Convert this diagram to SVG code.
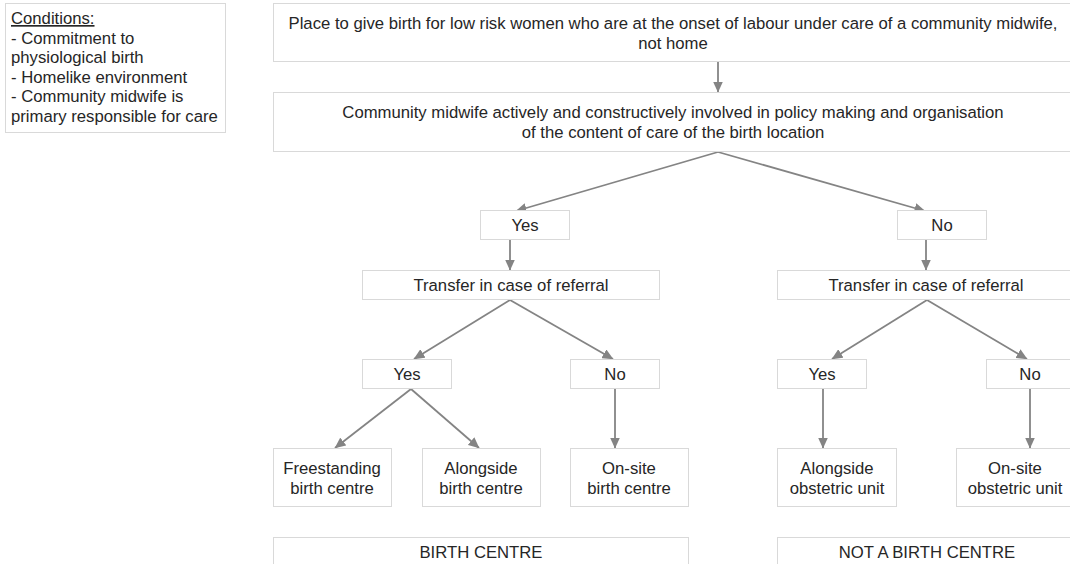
<svg xmlns="http://www.w3.org/2000/svg" width="1070" height="564" viewBox="0 0 1070 564">
<defs>
<style>
.box{fill:#fff;stroke:#d9d9d9;stroke-width:1}
.t{font-family:"Liberation Sans",Arial,sans-serif;font-size:16.7px;fill:#262626;text-anchor:middle}
.tl{font-family:"Liberation Sans",Arial,sans-serif;font-size:16.7px;fill:#262626}
.c{stroke:#848484;stroke-width:1.8;fill:none;marker-end:url(#ah)}
</style>
<marker id="ah" viewBox="0 0 11 10" refX="10.5" refY="5" markerWidth="11" markerHeight="10" markerUnits="userSpaceOnUse" orient="auto">
<path d="M0,0 L11,5 L0,10 z" fill="#848484"/>
</marker>
</defs>
<rect width="1070" height="564" fill="#fff"/>
<g id="conditions">
<rect class="box" x="5.5" y="3.5" width="220" height="129"/>
<text class="tl" x="11" y="24"><tspan text-decoration="underline">Conditions:</tspan><tspan x="11" dy="19.5">- Commitment to</tspan><tspan x="11" dy="19.5">physiological birth</tspan><tspan x="11" dy="19.5">- Homelike environment</tspan><tspan x="11" dy="19.5">- Community midwife is</tspan><tspan x="11" dy="19.5">primary responsible for care</tspan></text>
</g>
<g id="connectors">
<line class="c" x1="718" y1="62" x2="718" y2="92"/>
<line class="c" x1="718" y1="152" x2="516" y2="211"/>
<line class="c" x1="718" y1="152" x2="925" y2="211"/>
<line class="c" x1="510" y1="240" x2="510" y2="270"/>
<line class="c" x1="926" y1="240" x2="926" y2="270"/>
<line class="c" x1="510" y1="300" x2="414" y2="359"/>
<line class="c" x1="510" y1="300" x2="613" y2="359"/>
<line class="c" x1="927" y1="300" x2="832" y2="359"/>
<line class="c" x1="927" y1="300" x2="1027" y2="359"/>
<line class="c" x1="411" y1="389" x2="335" y2="448"/>
<line class="c" x1="411" y1="389" x2="479" y2="448"/>
<line class="c" x1="615" y1="389" x2="615" y2="448"/>
<line class="c" x1="823" y1="389" x2="823" y2="448"/>
<line class="c" x1="1030" y1="389" x2="1030" y2="448"/>
</g>
<g id="n-place">
<rect class="box" x="273.5" y="3.5" width="800" height="58"/>
<text class="t" x="673" y="29">Place to give birth for low risk women who are at the onset of labour under care of a community midwife,</text>
<text class="t" x="673" y="48.5">not home</text>
</g>
<g id="n-midwife">
<rect class="box" x="273.5" y="92.5" width="800" height="59"/>
<text class="t" x="673" y="118">Community midwife actively and constructively involved in policy making and organisation</text>
<text class="t" x="673" y="137.5">of the content of care of the birth location</text>
</g>
<g id="n-yes1">
<rect class="box" x="480.5" y="210.5" width="89" height="29"/>
<text class="t" x="525" y="231">Yes</text>
</g>
<g id="n-no1">
<rect class="box" x="897.5" y="210.5" width="89" height="29"/>
<text class="t" x="942" y="231">No</text>
</g>
<g id="n-transfer-left">
<rect class="box" x="362.5" y="270.5" width="297" height="29"/>
<text class="t" x="511" y="291">Transfer in case of referral</text>
</g>
<g id="n-transfer-right">
<rect class="box" x="777.5" y="270.5" width="297" height="29"/>
<text class="t" x="926" y="291">Transfer in case of referral</text>
</g>
<g id="n-yes2">
<rect class="box" x="362.5" y="359.5" width="89" height="29"/>
<text class="t" x="407" y="380">Yes</text>
</g>
<g id="n-no2">
<rect class="box" x="570.5" y="359.5" width="89" height="29"/>
<text class="t" x="615" y="380">No</text>
</g>
<g id="n-yes3">
<rect class="box" x="777.5" y="359.5" width="89" height="29"/>
<text class="t" x="822" y="380">Yes</text>
</g>
<g id="n-no3">
<rect class="box" x="986.5" y="359.5" width="89" height="29"/>
<text class="t" x="1030" y="380">No</text>
</g>
<g id="n-freestanding">
<rect class="box" x="273.5" y="448.5" width="118" height="58"/>
<text class="t" x="332" y="474">Freestanding</text>
<text class="t" x="332" y="493.5">birth centre</text>
</g>
<g id="n-alongside-bc">
<rect class="box" x="422.5" y="448.5" width="118" height="58"/>
<text class="t" x="481" y="474">Alongside</text>
<text class="t" x="481" y="493.5">birth centre</text>
</g>
<g id="n-onsite-bc">
<rect class="box" x="570.5" y="448.5" width="118" height="58"/>
<text class="t" x="629" y="474">On-site</text>
<text class="t" x="629" y="493.5">birth centre</text>
</g>
<g id="n-alongside-ou">
<rect class="box" x="777.5" y="448.5" width="119" height="58"/>
<text class="t" x="837" y="474">Alongside</text>
<text class="t" x="837" y="493.5">obstetric unit</text>
</g>
<g id="n-onsite-ou">
<rect class="box" x="956.5" y="448.5" width="119" height="58"/>
<text class="t" x="1015" y="474">On-site</text>
<text class="t" x="1015" y="493.5">obstetric unit</text>
</g>
<g id="n-birth-centre">
<rect class="box" x="273.5" y="537.5" width="415" height="40"/>
<text class="t" x="481" y="558">BIRTH CENTRE</text>
</g>
<g id="n-not-birth-centre">
<rect class="box" x="777.5" y="537.5" width="298" height="40"/>
<text class="t" x="927" y="558">NOT A BIRTH CENTRE</text>
</g>
</svg>
